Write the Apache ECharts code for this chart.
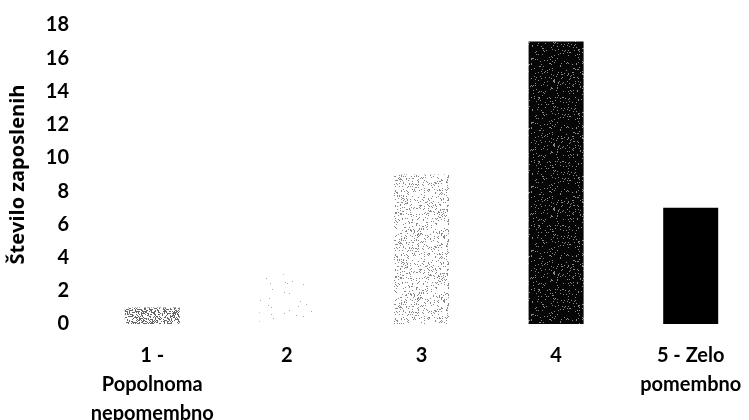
<!DOCTYPE html>
<html>
<head>
<meta charset="utf-8">
<script src="https://cdn.jsdelivr.net/npm/echarts@6/dist/echarts.min.js"></script>
<style>
  html, body { margin: 0; padding: 0; background: #fff; }
  #chart { width: 749px; height: 420px; }
</style>
</head>
<body>
<div id="chart"></div>
<script>
// Ocena pomembnosti – število zaposlenih po oceni
const categories = ['1 -\nPopolnoma\nnepomembno', '2', '3', '4', '5 - Zelo\npomembno'];
const employees = [1, 3, 9, 17, 7];
const yTicks = [0, 2, 4, 6, 8, 10, 12, 14, 16, 18];
const yAxisTitle = 'Število zaposlenih';

// Stippled fill: a small tile of dots on a plain ground
function stipple(density, ink, ground, seed) {
  const size = 64;
  const c = document.createElement('canvas');
  c.width = size; c.height = size;
  const ctx = c.getContext('2d');
  ctx.fillStyle = ground;
  ctx.fillRect(0, 0, size, size);
  let s = seed;
  const next = () => { s = (s * 1103515245 + 12345) & 0x7fffffff; return s / 0x7fffffff; };
  ctx.fillStyle = ink;
  for (let y = 0; y < size; y++) {
    for (let x = 0; x < size; x++) {
      if (next() < density) ctx.fillRect(x, y, 1, 1);
    }
  }
  return { image: c, repeat: 'repeat' };
}

const fills = [
  stipple(0.38, '#666', '#fff', 7),
  stipple(0.010, '#aaa', '#fff', 11),
  stipple(0.14, '#888', '#fff', 23),
  stipple(0.07, '#888', '#060606', 41),
  '#000'
];

const font = 'Lato, "Open Sans", sans-serif';
const chart = echarts.init(document.getElementById('chart'), null, { renderer: 'canvas' });
chart.setOption({
  animation: false,
  backgroundColor: '#fff',
  grid: {
    left: 85, width: 673, top: 25, height: 299,
    containLabel: false,
    outerBoundsMode: 'none'
  },
  xAxis: {
    type: 'category',
    data: categories,
    axisLine: { show: false },
    axisTick: { show: false },
    axisLabel: {
      interval: 0,
      margin: 17,
      color: '#000',
      fontFamily: font,
      fontWeight: 'bold',
      fontSize: 20,
      lineHeight: 29
    }
  },
  yAxis: {
    type: 'value',
    min: yTicks[0],
    max: yTicks[yTicks.length - 1],
    interval: yTicks[1] - yTicks[0],
    splitLine: { show: false },
    axisLine: { show: false },
    axisTick: { show: false },
    axisLabel: {
      margin: 16,
      color: '#000',
      fontFamily: font,
      fontWeight: 'bold',
      fontSize: 20
    },
    name: yAxisTitle,
    nameLocation: 'middle',
    nameGap: 57,
    nameTextStyle: {
      color: '#000',
      fontFamily: '"Open Sans", Lato, sans-serif',
      fontWeight: 'bold',
      fontSize: 20
    }
  },
  series: [{
    type: 'bar',
    barWidth: 55,
    data: employees.map((v, i) => ({ value: v, itemStyle: { color: fills[i] } }))
  }]
});
</script>
</body>
</html>
